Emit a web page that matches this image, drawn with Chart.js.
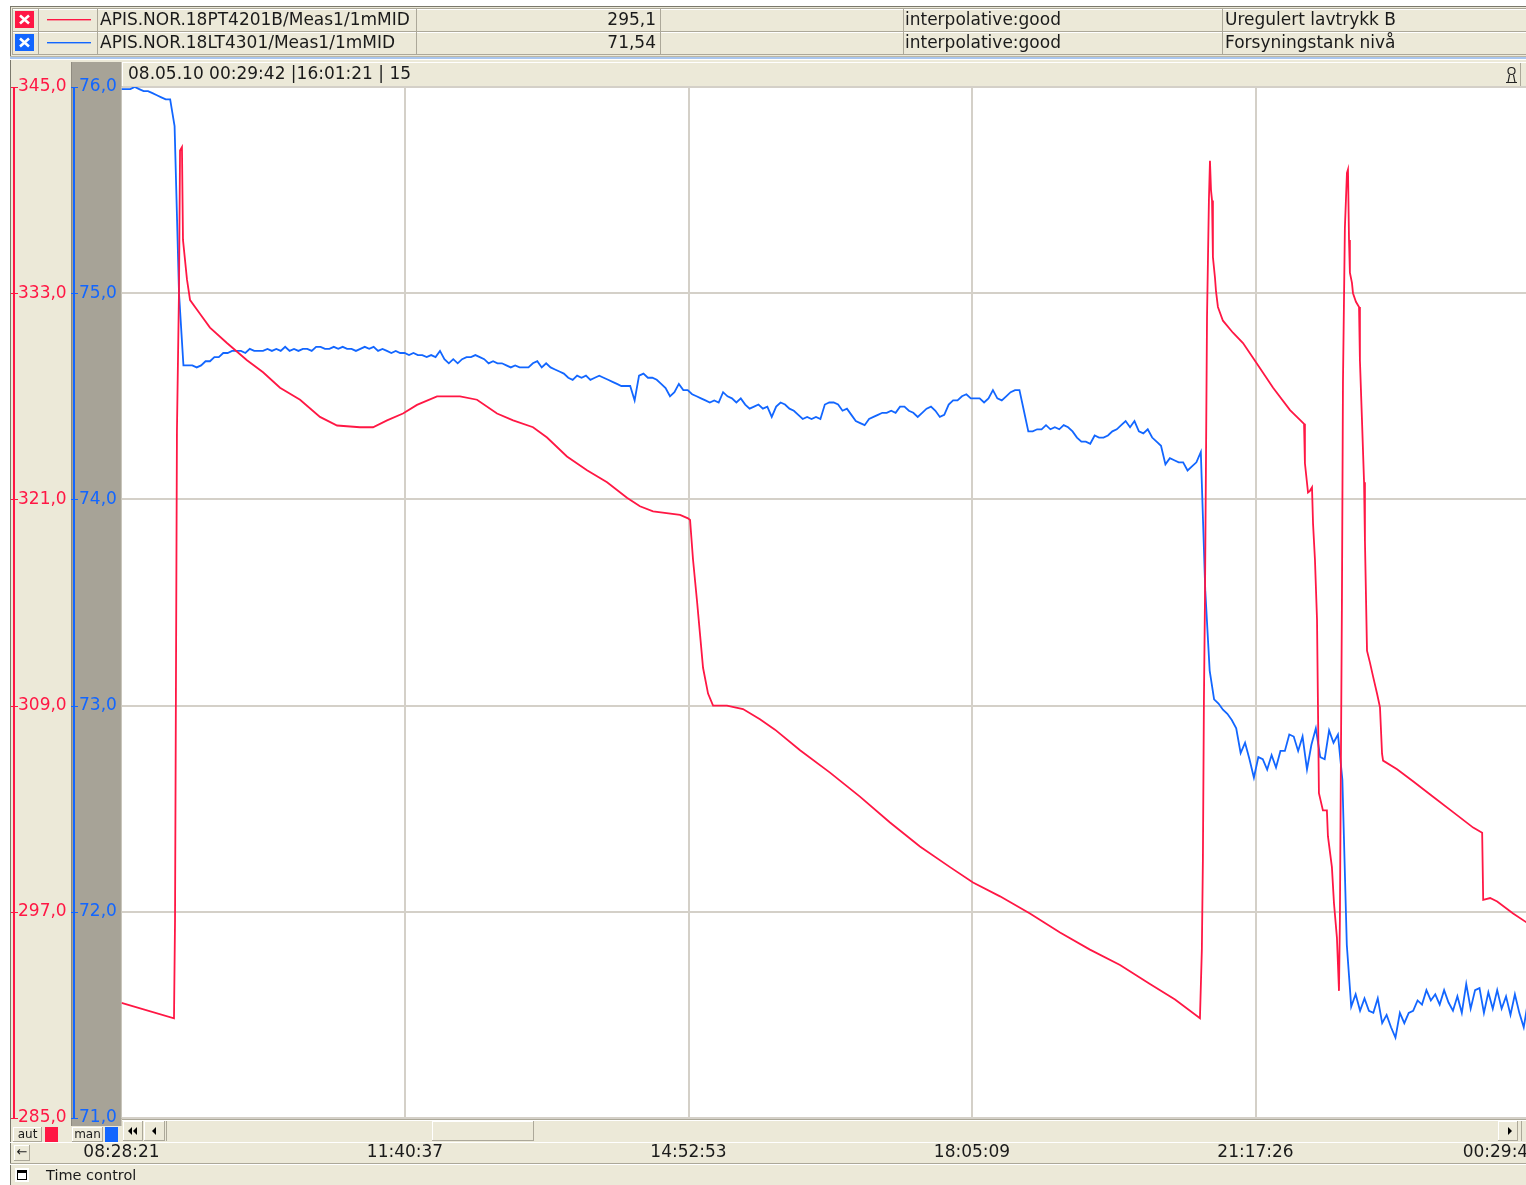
<!DOCTYPE html>
<html>
<head>
<meta charset="utf-8">
<script src="https://cdn.jsdelivr.net/npm/chart.js@4.4.1/dist/chart.umd.min.js"></script>
<style>
  html, body { margin: 0; padding: 0; background: #ffffff; overflow: hidden; }
  #wrap { position: relative; width: 1545px; height: 1185px; }
</style>
</head>
<body>
<div id="wrap"><canvas id="trend" width="1545" height="1185"></canvas></div>
<script>
// ---- trend window: 08.05.10, 16:01:21 span ending 00:29:42 ----
const spanMin = 961.35;                       // 16 h 01 min 21 s, in minutes
const xTickMin = [0, 192.27, 384.54, 576.81, 769.08, 961.35];
const xTickLabels = ['08:28:21', '11:40:37', '14:52:53', '18:05:09', '21:17:26', '00:29:42'];
const headerText = '08.05.10 00:29:42 |16:01:21 | 15';

const redTicks = [285, 297, 309, 321, 333, 345];
const blueTicks = [71, 72, 73, 74, 75, 76];

// legend table
const seriesTags = ['APIS.NOR.18PT4201B/Meas1/1mMID', 'APIS.NOR.18LT4301/Meas1/1mMID'];
const seriesValues = ['295,1', '71,54'];
const seriesStatus = ['interpolative:good', 'interpolative:good'];
const seriesDesc = ['Uregulert lavtrykk B', 'Forsyningstank nivå'];

// 18PT4201B pressure: minutes after 08:28:21, value
const redMin = [0, 35.6, 36.3, 37.6, 39.0, 39.7, 41.0, 41.7, 44.4, 46.5,
  53.2, 60.0, 71.5, 85.1, 96.0, 107.5, 121.1, 134.6, 146.2, 161.7,
  170.6, 180.1, 190.9, 200.4, 214.0, 229.6, 241.1, 254.7, 265.6, 279.1,
  288.6, 302.1, 315.7, 329.3, 342.8, 351.6, 360.5, 378.8, 384.2, 385.6,
  387.6, 390.3, 392.3, 394.4, 397.8, 401.2, 410.6, 421.5, 433.0, 443.2,
  460.2, 480.5, 500.8, 521.2, 541.5, 561.9, 577.5, 595.8, 616.1, 636.5,
  656.8, 677.2, 697.5, 714.5, 731.4, 732.7, 733.4, 734.1, 734.8, 735.5,
  736.2, 737.5, 738.2, 738.9, 739.6, 740.2, 741.6, 742.3, 743.6, 747.0,
  753.8, 760.6, 770.1, 781.0, 792.5, 802.0, 802.6, 804.7, 806.0, 807.4,
  808.1, 809.4, 810.8, 812.1, 814.8, 817.5, 818.2, 820.9, 822.3, 824.3,
  825.7, 826.3, 827.7, 828.4, 829.7, 831.1, 831.8, 832.5, 833.1, 834.5,
  835.2, 837.2, 839.3, 839.9, 841.3, 842.7, 843.3, 844.7, 846.7, 848.8,
  851.5, 853.5, 854.9, 855.6, 865.1, 875.9, 889.5, 903.1, 916.7, 922.8,
  923.5, 928.2, 933.0, 943.8, 952.6, 961.3];
const redPress = [291.7, 290.8, 296.5, 325.0, 333.2, 341.3, 341.5, 336.1, 333.8, 332.6,
  331.8, 331.0, 330.1, 329.1, 328.4, 327.5, 326.8, 325.8, 325.3, 325.2,
  325.2, 325.6, 326.0, 326.5, 327.0, 327.0, 326.8, 326.0, 325.6, 325.2,
  324.6, 323.5, 322.7, 322.0, 321.1, 320.6, 320.3, 320.1, 319.9, 319.8,
  317.5, 315.1, 313.2, 311.2, 309.7, 309.0, 309.0, 308.8, 308.2, 307.6,
  306.4, 305.1, 303.7, 302.2, 300.8, 299.6, 298.7, 297.9, 296.9, 295.8,
  294.8, 293.9, 292.8, 291.9, 290.8, 294.8, 300.0, 309.3, 315.1, 323.3,
  331.6, 338.5, 340.7, 339.0, 338.4, 335.1, 333.9, 333.1, 332.2, 331.4,
  330.7, 330.1, 328.9, 327.5, 326.2, 325.4, 323.1, 321.4, 321.5, 321.7,
  319.6, 317.5, 314.0, 303.9, 302.9, 302.9, 301.4, 299.6, 297.5, 295.5,
  292.4, 296.4, 315.1, 327.8, 336.8, 340.0, 340.2, 336.1, 334.2, 333.6,
  333.0, 332.5, 332.2, 329.1, 325.6, 322.0, 318.6, 312.2, 311.5, 310.7,
  309.7, 308.9, 306.2, 305.8, 305.3, 304.6, 303.7, 302.8, 301.9, 301.6,
  297.7, 297.8, 297.6, 296.9, 296.4, 295.8];

// 18LT4301 tank level: one sample every 3 minutes from 08:28:21
const blueStartMin = 0;
const blueStepMin = 3;
const blueLevel = [
  75.99, 75.99, 75.99, 76.00, 75.99, 75.98, 75.98, 75.97, 75.96, 75.95,
  75.94, 75.94, 75.81, 75.00, 74.65, 74.65, 74.65, 74.64, 74.65, 74.67,
  74.67, 74.69, 74.69, 74.71, 74.71, 74.72, 74.72, 74.72, 74.71, 74.73,
  74.72, 74.72, 74.72, 74.73, 74.72, 74.73, 74.72, 74.74, 74.72, 74.73,
  74.72, 74.73, 74.73, 74.72, 74.74, 74.74, 74.73, 74.73, 74.74, 74.73,
  74.74, 74.73, 74.73, 74.72, 74.73, 74.74, 74.73, 74.74, 74.72, 74.73,
  74.72, 74.71, 74.72, 74.71, 74.71, 74.70, 74.71, 74.70, 74.70, 74.69,
  74.70, 74.69, 74.72, 74.68, 74.66, 74.68, 74.66, 74.68, 74.69, 74.69,
  74.70, 74.69, 74.68, 74.66, 74.67, 74.66, 74.66, 74.65, 74.64, 74.65,
  74.64, 74.64, 74.64, 74.66, 74.67, 74.64, 74.66, 74.64, 74.63, 74.62,
  74.61, 74.59, 74.58, 74.60, 74.59, 74.60, 74.58, 74.59, 74.60, 74.59,
  74.58, 74.57, 74.56, 74.55, 74.55, 74.55, 74.48, 74.60, 74.61, 74.59,
  74.59, 74.58, 74.56, 74.54, 74.50, 74.52, 74.56, 74.53, 74.53, 74.51,
  74.50, 74.49, 74.48, 74.47, 74.48, 74.47, 74.52, 74.50, 74.49, 74.47,
  74.49, 74.46, 74.44, 74.45, 74.46, 74.44, 74.45, 74.40, 74.45, 74.47,
  74.46, 74.44, 74.43, 74.41, 74.39, 74.40, 74.39, 74.40, 74.39, 74.46,
  74.47, 74.47, 74.46, 74.43, 74.44, 74.41, 74.38, 74.37, 74.36, 74.39,
  74.40, 74.41, 74.42, 74.42, 74.43, 74.42, 74.45, 74.45, 74.43, 74.42,
  74.40, 74.42, 74.44, 74.45, 74.43, 74.40, 74.41, 74.46, 74.48, 74.48,
  74.50, 74.51, 74.49, 74.49, 74.49, 74.47, 74.49, 74.53, 74.49, 74.48,
  74.50, 74.52, 74.53, 74.53, 74.43, 74.33, 74.33, 74.34, 74.34, 74.36,
  74.34, 74.35, 74.34, 74.36, 74.35, 74.33, 74.30, 74.28, 74.28, 74.27,
  74.31, 74.30, 74.30, 74.31, 74.33, 74.34, 74.36, 74.38, 74.35, 74.38,
  74.33, 74.32, 74.34, 74.30, 74.28, 74.26, 74.17, 74.20, 74.19, 74.18,
  74.18, 74.14, 74.16, 74.18, 74.23, 73.56, 73.17, 73.03, 73.01, 72.98,
  72.96, 72.93, 72.89, 72.77, 72.82, 72.74, 72.65, 72.75, 72.74, 72.69,
  72.76, 72.70, 72.78, 72.78, 72.86, 72.85, 72.78, 72.85, 72.69, 72.81,
  72.89, 72.75, 72.74, 72.88, 72.82, 72.86, 72.64, 71.84, 71.54, 71.60,
  71.52, 71.58, 71.52, 71.51, 71.58, 71.46, 71.50, 71.44, 71.39, 71.51,
  71.46, 71.51, 71.52, 71.57, 71.55, 71.62, 71.57, 71.60, 71.55, 71.62,
  71.56, 71.52, 71.59, 71.51, 71.65, 71.53, 71.62, 71.63, 71.51, 71.61,
  71.53, 71.62, 71.53, 71.59, 71.50, 71.60, 71.51, 71.44, 71.57];

// ---- look ----
const FONT = '"DejaVu Sans", Verdana, sans-serif';
const UI = {
  beige: '#ece9d8', panel: '#a7a397', edge: '#aca899', dark: '#7a786c',
  grid: '#d4d0c8', red: '#ff1744', blue: '#1266ff', text: '#1a1a1a'
};

function hline(ctx, x1, x2, y, color, w) { ctx.fillStyle = color; ctx.fillRect(x1, y, x2 - x1, w || 1); }
function vline(ctx, x, y1, y2, color, w) { ctx.fillStyle = color; ctx.fillRect(x, y1, w || 1, y2 - y1); }
function raised(ctx, x, y, w, h) {
  ctx.fillStyle = UI.beige; ctx.fillRect(x, y, w, h);
  hline(ctx, x, x + w, y, '#ffffff'); vline(ctx, x, y, y + h, '#ffffff');
  hline(ctx, x, x + w, y + h - 1, UI.edge); vline(ctx, x + w - 1, y, y + h, UI.edge);
}
function text(ctx, s, x, y, size, color, align) {
  ctx.font = size + 'px ' + FONT; ctx.fillStyle = color || UI.text;
  ctx.textAlign = align || 'left'; ctx.textBaseline = 'middle';
  ctx.fillText(s, x, y);
}
function tri(ctx, x, y, dir) {
  ctx.fillStyle = '#000'; ctx.beginPath();
  ctx.moveTo(x, y); ctx.lineTo(x + 4 * dir, y - 4); ctx.lineTo(x + 4 * dir, y + 4); ctx.closePath(); ctx.fill();
}

const chrome = {
  id: 'chrome',
  beforeDraw(chart) {
    const { ctx, chartArea: a } = chart;
    const W = chart.width, H = chart.height;
    ctx.save();
    ctx.fillStyle = '#ffffff'; ctx.fillRect(0, 0, W, H);
    ctx.fillStyle = UI.beige; ctx.fillRect(10, 6, W - 10, H - 6);
    vline(ctx, 10, 6, H, UI.dark); hline(ctx, 10, W, 6, UI.dark);

    // legend table
    const colX = [12, 38, 97, 416, 660, 903, 1222];
    const colors = [UI.red, UI.blue];
    for (let k = 0; k < 2; k++) {
      const y = 8 + 23 * k;
      hline(ctx, 12, W, y, UI.edge);
      hline(ctx, 12, W, y + 1, '#ffffff');
      colX.forEach(cx => vline(ctx, cx, y, y + 23, UI.edge));
      // check box with cross
      ctx.fillStyle = colors[k]; ctx.fillRect(15, y + 3, 19, 17);
      ctx.strokeStyle = '#ffffff'; ctx.lineWidth = 2.6; ctx.beginPath();
      ctx.moveTo(20, y + 7.5); ctx.lineTo(29, y + 15.5); ctx.moveTo(29, y + 7.5); ctx.lineTo(20, y + 15.5); ctx.stroke();
      hline(ctx, 47, 91, y + 11, colors[k], 1.4);
      text(ctx, seriesTags[k], 100, y + 12.5, 17);
      text(ctx, seriesValues[k], 656, y + 12.5, 17, UI.text, 'right');
      text(ctx, seriesStatus[k], 905, y + 12.5, 17);
      text(ctx, seriesDesc[k], 1225, y + 12.5, 17);
    }
    hline(ctx, 12, W, 54, UI.edge);
    hline(ctx, 10, W, 56, '#b9b6a6');
    hline(ctx, 10, W, 57, '#a9c6ee', 2);
    hline(ctx, 10, W, 59, '#ffffff');

    // left axis panels
    ctx.fillStyle = UI.panel; ctx.fillRect(71, 62, a.left - 71, 1064);
    vline(ctx, 71, 62, 1126, '#8f8b80');

    // header bar above the plot
    raised(ctx, 122, 62, W - 122, 25);
    text(ctx, headerText, 128, 75, 17);
    vline(ctx, 1520, 63, 86, UI.edge);
    ctx.strokeStyle = '#222'; ctx.lineWidth = 1.2;
    ctx.beginPath(); ctx.arc(1511.5, 71, 3.5, 0, Math.PI * 2); ctx.stroke();
    ctx.beginPath(); ctx.moveTo(1506, 82.5); ctx.lineTo(1517, 82.5);
    ctx.moveTo(1508, 82.5); ctx.lineTo(1509.5, 75); ctx.moveTo(1515, 82.5); ctx.lineTo(1513.5, 75); ctx.stroke();

    // plot area
    ctx.fillStyle = '#ffffff'; ctx.fillRect(a.left, a.top, W - a.left, a.bottom - a.top);
    vline(ctx, a.left - 1, a.top - 1, a.bottom + 1, UI.edge);

    // scroll bar row
    hline(ctx, 122, W, 1119, UI.edge);
    hline(ctx, 122, W, 1120, '#ffffff');
    raised(ctx, 123, 1121, 20, 20); tri(ctx, 128, 1131, 1); tri(ctx, 133, 1131, 1);
    raised(ctx, 144, 1121, 21, 20); tri(ctx, 152, 1131, 1);
    vline(ctx, 166, 1121, 1141, UI.edge);
    raised(ctx, 432, 1121, 102, 20);
    raised(ctx, 1498, 1121, 20, 20); tri(ctx, 1512, 1131, -1);
    vline(ctx, 1521, 1121, 1141, UI.edge);

    // auto / manual markers
    raised(ctx, 13, 1127, 29, 15); text(ctx, 'aut', 27.5, 1134.5, 12, UI.text, 'center');
    ctx.fillStyle = UI.red; ctx.fillRect(45, 1127, 13, 15);
    raised(ctx, 72, 1127, 31, 15); text(ctx, 'man', 87.5, 1134.5, 12, UI.text, 'center');
    ctx.fillStyle = UI.blue; ctx.fillRect(105, 1127, 13, 15);

    // time row
    hline(ctx, 10, W, 1142, '#ffffff');
    raised(ctx, 14, 1145, 16, 16); text(ctx, '←', 22, 1153, 13, UI.text, 'center');
    hline(ctx, 10, W, 1163, UI.edge);
    hline(ctx, 10, W, 1164, '#ffffff');

    // bottom bar
    ctx.fillStyle = '#ffffff'; ctx.fillRect(15, 1168, 14, 14);
    ctx.strokeStyle = '#000'; ctx.lineWidth = 1; ctx.strokeRect(17.5, 1170.5, 9, 9);
    hline(ctx, 17, 27, 1171, '#000', 2);
    text(ctx, 'Time control', 46, 1176, 14.5);
    ctx.restore();
  },
  afterDraw(chart) {
    const { ctx, chartArea: a } = chart;
    ctx.save();
    const yR = chart.scales.yR, yB = chart.scales.yB;
    vline(ctx, 13, a.top, a.bottom + 1, UI.red, 2);
    yR.ticks.forEach(t => hline(ctx, 11, 18, Math.round(yR.getPixelForValue(t.value)), UI.red));
    vline(ctx, 73, a.top, a.bottom + 1, UI.blue, 2);
    yB.ticks.forEach(t => hline(ctx, 71, 78, Math.round(yB.getPixelForValue(t.value)), UI.blue));
    ctx.restore();
  }
};

const fmt1 = v => v.toFixed(1).replace('.', ',');

new Chart(document.getElementById('trend'), {
  type: 'line',
  data: {
    datasets: [
      {
        label: seriesTags[0],
        data: redMin.map((m, i) => ({ x: m, y: redPress[i] })),
        yAxisID: 'yR', borderColor: UI.red, borderWidth: 1.8,
        pointRadius: 0, tension: 0, fill: false
      },
      {
        label: seriesTags[1],
        data: blueLevel.map((v, i) => ({ x: blueStartMin + i * blueStepMin, y: v })),
        yAxisID: 'yB', borderColor: UI.blue, borderWidth: 1.8,
        pointRadius: 0, tension: 0, fill: false
      }
    ]
  },
  options: {
    responsive: false,
    animation: false,
    devicePixelRatio: 1,
    layout: { padding: { left: 18, top: 87, right: 6, bottom: 0 } },
    plugins: { legend: { display: false }, tooltip: { enabled: false } },
    scales: {
      x: {
        type: 'linear', position: 'bottom', min: 0, max: spanMin,
        afterBuildTicks: s => { s.ticks = [{ value: -60 }].concat(xTickMin.map(v => ({ value: v }))); },
        afterFit: s => { s.height = 67; s.paddingLeft = 0; s.paddingRight = 0; },
        grid: {
          color: c => (c.tick && c.tick.value > 1 && c.tick.value < spanMin - 1) ? UI.grid : 'rgba(0,0,0,0)',
          lineWidth: 2, drawTicks: false
        },
        border: { display: false },
        ticks: {
          autoSkip: false, maxRotation: 0, minRotation: 0, align: 'inner', padding: 24,
          color: UI.text, font: { family: FONT, size: 17 },
          callback: (v, i) => (i === 0 ? '' : xTickLabels[i - 1])
        }
      },
      yR: {
        type: 'linear', position: 'left', weight: 2, min: redTicks[0], max: redTicks[redTicks.length - 1],
        afterBuildTicks: s => { s.ticks = redTicks.map(v => ({ value: v })); },
        afterFit: s => { s.width = 61; s.paddingTop = 0; s.paddingBottom = 0; },
        grid: { color: UI.grid, lineWidth: 2, drawTicks: false },
        border: { display: false },
        ticks: { crossAlign: 'far', autoSkip: false, color: UI.red, font: { family: FONT, size: 17 }, callback: v => fmt1(v) }
      },
      yB: {
        type: 'linear', position: 'left', weight: 1, min: blueTicks[0], max: blueTicks[blueTicks.length - 1],
        afterBuildTicks: s => { s.ticks = blueTicks.map(v => ({ value: v })); },
        afterFit: s => { s.width = 42.5; s.paddingTop = 0; s.paddingBottom = 0; },
        grid: { display: false, drawTicks: false },
        border: { display: false },
        ticks: { crossAlign: 'far', autoSkip: false, color: UI.blue, font: { family: FONT, size: 17 }, callback: v => fmt1(v) }
      }
    }
  },
  plugins: [chrome]
});
</script>
</body>
</html>
